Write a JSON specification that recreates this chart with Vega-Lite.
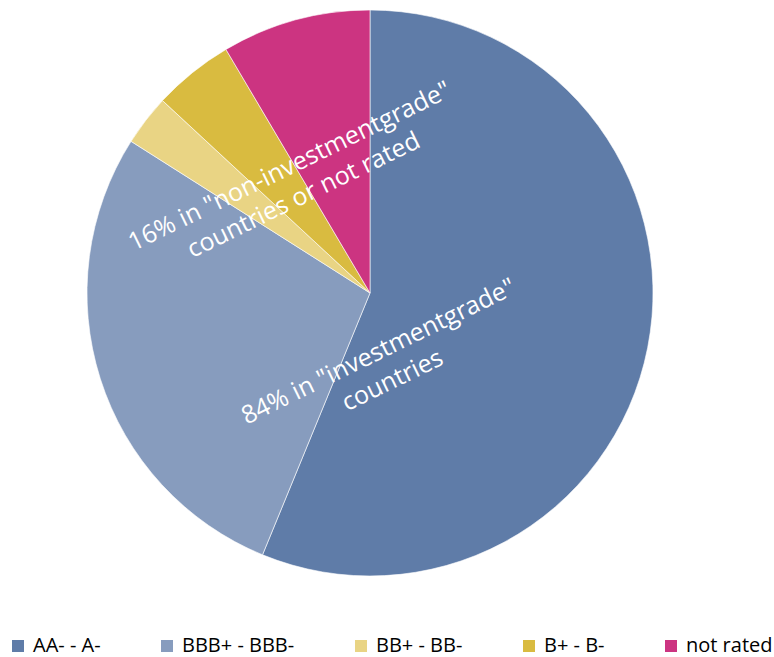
{
  "$schema": "https://vega.github.io/schema/vega-lite/v6.json",
  "width": 740,
  "height": 566,
  "autosize": {"type": "none"},
  "padding": {"left": 0, "top": 10, "right": 34, "bottom": 81},
  "background": "white",
  "config": {"view": {"stroke": null}, "font": "Open Sans"},
  "datasets": {
    "slices": [
      {"rating": "AA- - A-", "share": 56.2, "order": 1},
      {"rating": "BBB+ - BBB-", "share": 27.8, "order": 2},
      {"rating": "BB+ - BB-", "share": 2.9, "order": 3},
      {"rating": "B+ - B-", "share": 4.6, "order": 4},
      {"rating": "not rated", "share": 8.5, "order": 5}
    ],
    "labels": [
      {"text": "84% in \"investmentgrade\"\ncountries", "pos": 47.7, "r": 0.209},
      {"text": "16% in \"non-investmentgrade\"\ncountries or not rated", "pos": 91.0, "r": 0.53}
    ]
  },
  "layer": [
    {
      "data": {"name": "slices"},
      "mark": {"type": "arc", "stroke": "white", "strokeWidth": 0.6},
      "encoding": {
        "theta": {"field": "share", "type": "quantitative", "stack": true},
        "order": {"field": "order", "type": "quantitative"},
        "color": {
          "field": "rating",
          "type": "nominal",
          "sort": ["AA- - A-", "BBB+ - BBB-", "BB+ - BB-", "B+ - B-", "not rated"],
          "scale": {
            "domain": ["AA- - A-", "BBB+ - BBB-", "BB+ - BB-", "B+ - B-", "not rated"],
            "range": ["#5f7ca8", "#879cbe", "#e9d484", "#d9bb40", "#cc3481"]
          },
          "legend": {
            "title": null,
            "orient": "bottom",
            "direction": "horizontal",
            "offset": 60,
            "symbolType": "square",
            "symbolSize": 144,
            "symbolStrokeWidth": 0,
            "labelFontSize": 20,
            "labelFont": "Open Sans",
            "labelColor": "#000000",
            "columnPadding": 48,
            "symbolOffset": 8,
            "labelOffset": 5
          }
        }
      }
    },
    {
      "data": {"name": "labels"},
      "mark": {"type": "text", "color": "white", "fontSize": 25, "angle": 334, "align": "center", "baseline": "middle", "lineBreak": "\n", "lineHeight": 32, "font": "Open Sans"},
      "encoding": {
        "theta": {"field": "pos", "type": "quantitative", "stack": null},
        "radius": {"field": "r", "type": "quantitative", "scale": {"type": "linear", "domain": [0, 1], "range": [0, 283], "zero": true}},
        "text": {"field": "text", "type": "nominal"}
      }
    }
  ]
}
